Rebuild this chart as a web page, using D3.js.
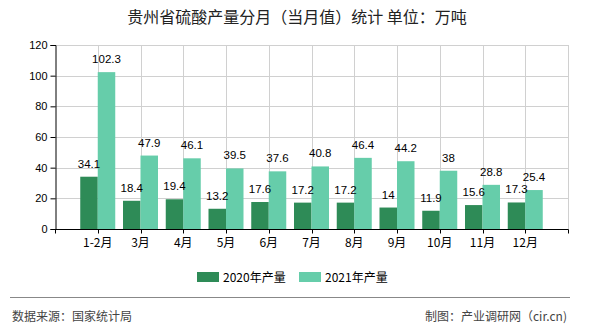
<!DOCTYPE html>
<html><head><meta charset="utf-8">
<script src="https://cdn.jsdelivr.net/npm/d3@7"></script>
<style>body{margin:0;background:#fff}svg{display:block}</style>
</head><body>
<svg id="c" width="590" height="330"></svg>
<script>
const categories = ["1-2月","3月","4月","5月","6月","7月","8月","9月","10月","11月","12月"];
const series2020 = [34.1,18.4,19.4,13.2,17.6,17.2,17.2,14,11.9,15.6,17.3];
const series2021 = [102.3,47.9,46.1,39.5,37.6,40.8,46.4,44.2,38,28.8,25.4];
const seriesNames = ["2020年产量","2021年产量"];
const yTicks = [0,20,40,60,80,100,120];
const colors = ["#2e8b57","#66cdaa"];

const svg = d3.select("#c");
const L=55, R=568, T=45, B=229;
const numFont = "'Liberation Sans','Noto Sans CJK SC',sans-serif";
const cjkFont = "'Noto Sans CJK SC','Liberation Sans',sans-serif";

const x = d3.scalePoint().domain(categories).range([L,R]).padding(1);
const y = d3.scaleLinear().domain([0,120]).range([B,T]);
const bw = 17.5;

// title
svg.append("text").attr("x",297).attr("y",23).attr("text-anchor","middle")
  .attr("font-family",cjkFont).attr("font-size",16).attr("fill","#222")
  .text("贵州省硫酸产量分月（当月值）统计 单位：万吨");

// horizontal grid
svg.append("g").selectAll("line").data(yTicks.filter(d=>d>0)).join("line")
  .attr("x1",L).attr("x2",R).attr("y1",d=>Math.round(y(d))+0.5).attr("y2",d=>Math.round(y(d))+0.5)
  .attr("stroke","#d0d0d0");
// vertical grid
const gridX = categories.map(c=>x(c)).concat([R]);
svg.append("g").selectAll("line").data(gridX).join("line")
  .attr("x1",d=>Math.round(d)+0.5).attr("x2",d=>Math.round(d)+0.5).attr("y1",T).attr("y2",B)
  .attr("stroke","#d0d0d0");

// bars
const all = [series2020, series2021];
const gb = svg.append("g");
const gl = svg.append("g");
all.forEach((vals,si)=>{
  gb.append("g").selectAll("rect").data(vals).join("rect")
    .attr("x",(d,i)=>x(categories[i]) + (si===0 ? -bw : 0))
    .attr("y",d=>y(d)).attr("width",bw).attr("height",d=>B-y(d))
    .attr("fill",colors[si]);
});
all.forEach((vals,si)=>{
  gl.append("g").selectAll("text").data(vals).join("text")
    .attr("x",(d,i)=>x(categories[i]) + (si===0 ? -bw/2 : bw/2))
    .attr("y",d=>y(d)-9).attr("text-anchor","middle")
    .attr("font-family",numFont).attr("font-size",11.5).attr("fill","#000")
    .text(d=>d);
});

// y axis
const ya = svg.append("g").attr("transform",`translate(${L+0.5},0)`)
  .call(d3.axisLeft(y).tickValues(yTicks).tickSize(5).tickPadding(3));
ya.select(".domain").attr("stroke","#000");
ya.selectAll("line").attr("stroke","#000");
ya.selectAll("text").attr("font-family",numFont).attr("font-size",11).attr("fill","#000");

// x axis
const xa = svg.append("g").attr("transform",`translate(0,${B+0.5})`);
xa.append("line").attr("x1",L).attr("x2",R+0.5).attr("stroke","#000");
xa.selectAll("line.t").data([L].concat(gridX)).join("line").attr("class","t")
  .attr("x1",d=>Math.round(d)+0.5).attr("x2",d=>Math.round(d)+0.5).attr("y1",0).attr("y2",4).attr("stroke","#000");
xa.selectAll("text").data(categories).join("text")
  .attr("x",d=>x(d)).attr("y",17).attr("text-anchor","middle")
  .attr("font-family",cjkFont).attr("font-size",12).attr("fill","#000").text(d=>d);

// legend
const lg = svg.append("g");
const lx = [197,299];
seriesNames.forEach((n,i)=>{
  lg.append("rect").attr("x",lx[i]).attr("y",272).attr("width",22).attr("height",10).attr("fill",colors[i]);
  lg.append("text").attr("x",lx[i]+26).attr("y",281.5).attr("font-family",cjkFont).attr("font-size",12)
    .attr("fill","#000").text(n);
});

// footer
svg.append("line").attr("x1",10).attr("x2",570).attr("y1",297.5).attr("y2",297.5).attr("stroke","#888");
svg.append("text").attr("x",12).attr("y",320.5).attr("font-family",cjkFont).attr("font-size",12).attr("fill","#444")
  .text("数据来源：国家统计局");
svg.append("text").attr("x",567).attr("y",320.5).attr("text-anchor","end").attr("font-family",cjkFont).attr("font-size",12).attr("fill","#444")
  .text("制图：产业调研网（cir.cn)");
</script>
</body></html>
